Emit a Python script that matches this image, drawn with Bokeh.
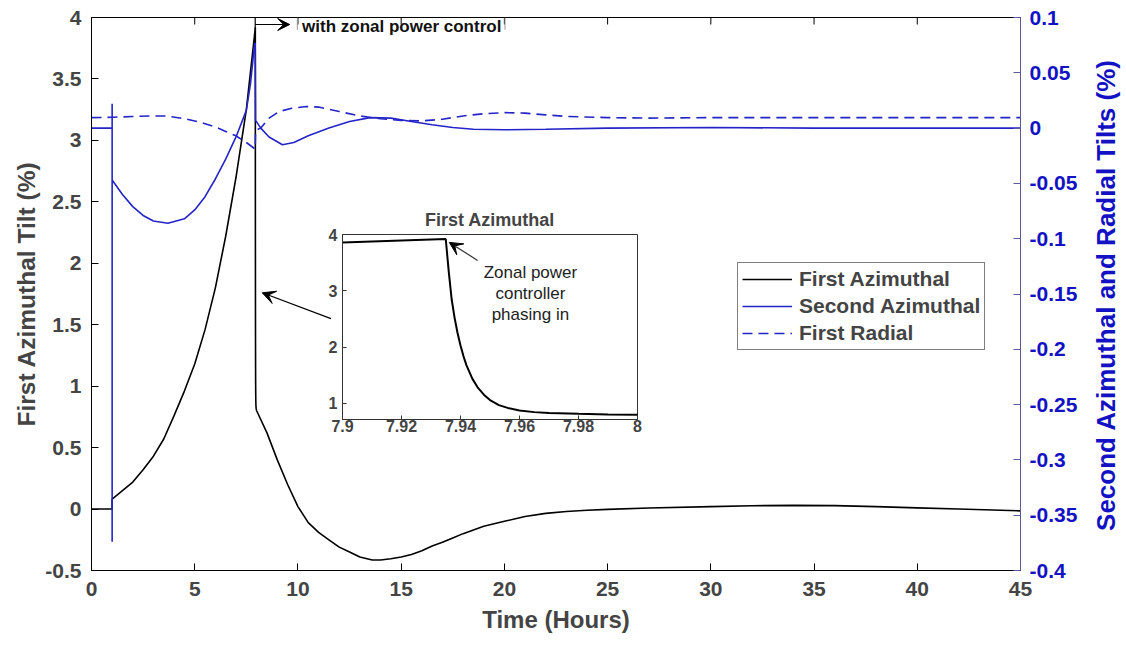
import math
from bokeh.plotting import figure
from bokeh.models import (Range1d, LinearAxis, FixedTicker, Legend, LegendItem,
                          Arrow, VeeHead, Label)
from bokeh.layouts import column, row
from bokeh.embed import file_html
from bokeh.resources import INLINE

FONT = "Liberation Sans"
BLUE = "#2424c8"
BLUE_TXT = "#1212c4"

# ---------------- data ----------------
# First Azimuthal tilt (%), left axis
t_az1 = [0.0, 1.0, 1.0, 1.5, 2.0, 2.5, 3.0, 3.5, 4.0, 4.5, 5.0, 5.5, 6.0, 6.5, 7.0,
         7.5, 7.9, 7.935, 7.936, 7.937, 7.938, 7.939, 7.940, 7.941, 7.942, 7.944,
         7.946, 7.948, 7.950, 7.953, 7.956, 7.960, 7.965, 7.970, 7.980, 7.990,
         8.0, 8.5, 9.0, 9.5, 10.0, 10.5, 11.0, 11.5, 12.0, 12.5, 13.0,
         13.6, 14.0, 14.5, 15.0, 15.5, 16.0, 16.5, 17.0, 17.5, 18.0, 19.0, 20.0,
         21.0, 22.0, 23.0, 24.0, 25.0, 27.0, 30.0, 32.0, 34.0, 36.0, 38.0, 40.0,
         42.0, 45.0]
az1 = [0.0, 0.0, 0.08, 0.15, 0.22, 0.32, 0.43, 0.57, 0.76, 0.96, 1.18, 1.46, 1.80,
       2.22, 2.70, 3.25, 3.86, 3.92, 3.35, 2.85, 2.52, 2.25, 2.03, 1.84, 1.68, 1.44,
       1.27, 1.15, 1.06, 0.97, 0.92, 0.875, 0.845, 0.83, 0.815, 0.805,
       0.80, 0.62, 0.40, 0.20, 0.02, -0.11, -0.19, -0.25, -0.31, -0.35,
       -0.39, -0.415, -0.415, -0.405, -0.39, -0.37, -0.34, -0.30, -0.27, -0.235,
       -0.20, -0.14, -0.10, -0.06, -0.035, -0.02, -0.01, -0.003, 0.008, 0.02,
       0.027, 0.03, 0.028, 0.02, 0.01, 0.0, -0.015]

# Second Azimuthal tilt (%), right axis
t_az2 = [0.0, 1.0, 1.0, 1.0, 1.0, 1.5, 2.0, 2.5, 3.0, 3.7, 4.5, 5.0, 5.5, 6.0, 6.5,
         7.0, 7.5, 7.7, 7.9, 7.93, 7.95, 8.2, 8.6, 9.25, 9.8, 10.5, 11.5, 12.5,
         13.5, 14.5, 15.5, 16.5, 17.5, 18.5, 20.0, 22.0, 25.0, 30.0, 35.0, 40.0,
         45.0]
az2 = [0.0, 0.0, 0.022, -0.374, -0.047, -0.060, -0.071, -0.079, -0.084, -0.086,
       -0.082, -0.074, -0.062, -0.046, -0.028, -0.008, 0.016, 0.040, 0.076, 0.077,
       0.007, 0.0, -0.008, -0.015, -0.013, -0.007, 0.0, 0.006, 0.0095, 0.009,
       0.006, 0.003, 0.0005, -0.001, -0.0015, -0.001, 0.0, 0.0005, 0.0, 0.0, 0.0]

# First Radial tilt (%), right axis
t_rad = [0.0, 1.0, 2.0, 3.0, 3.6, 4.5, 5.0, 5.5, 6.0, 6.5, 7.0, 7.5, 7.93, 7.95,
         8.2, 8.6, 9.1, 9.7, 10.4, 11.0, 12.0, 13.0, 14.0, 15.0, 16.0, 17.0, 18.0,
         19.0, 20.0, 21.0, 22.0, 23.0, 25.0, 27.0, 30.0, 35.0, 40.0, 45.0]
rad = [0.0095, 0.0098, 0.0105, 0.011, 0.011, 0.0085, 0.0065, 0.004, 0.001, -0.003,
       -0.007, -0.013, -0.019, -0.002, 0.0, 0.009, 0.015, 0.018, 0.0195, 0.019,
       0.015, 0.011, 0.0085, 0.007, 0.0065, 0.008, 0.011, 0.013, 0.014, 0.0135,
       0.012, 0.0105, 0.0095, 0.009, 0.0095, 0.0095, 0.0095, 0.0095]

x_ticks = [0, 5, 10, 15, 20, 25, 30, 35, 40, 45]
left_ticks = [-0.5, 0, 0.5, 1, 1.5, 2, 2.5, 3, 3.5, 4]
left_labels = ["-0.5", "0", "0.5", "1", "1.5", "2", "2.5", "3", "3.5", "4"]
right_ticks = [-0.4, -0.35, -0.3, -0.25, -0.2, -0.15, -0.1, -0.05, 0, 0.05, 0.1]
right_labels = ["-0.4", "-0.35", "-0.3", "-0.25", "-0.2", "-0.15", "-0.1", "-0.05",
                "0", "0.05", "0.1"]
inset_x_ticks = [7.9, 7.92, 7.94, 7.96, 7.98, 8.0]
inset_x_labels = ["7.9", "7.92", "7.94", "7.96", "7.98", "8"]
inset_y_ticks = [1, 2, 3, 4]

series_names = ["First Azimuthal", "Second Azimuthal", "First Radial"]
right_title = "Second Azimuthal and Radial Tilts (%)"

FRAME_W, FRAME_H = 929, 553
X0, X1, Y0, Y1 = 0, 45, -0.5, 4

# ---------------- main figure ----------------
p = figure(output_backend="svg", toolbar_location=None,
           frame_width=FRAME_W, frame_height=FRAME_H,
           x_range=Range1d(X0, X1), y_range=Range1d(Y0, Y1),
           min_border_left=91, min_border_right=99, min_border_top=17,
           min_border_bottom=72)
p.extra_y_ranges = {"r": Range1d(-0.4, 0.1)}
p.xgrid.visible = False
p.ygrid.visible = False
p.outline_line_color = "black"
p.outline_line_width = 1
p.background_fill_color = "white"
p.border_fill_color = "white"

def style_axis(ax, color="black", size="21px"):
    ax.major_tick_in = 7
    ax.major_tick_out = 0
    ax.minor_tick_in = 0
    ax.minor_tick_out = 0
    ax.axis_line_color = color
    ax.major_tick_line_color = color
    ax.major_label_text_font = FONT
    ax.major_label_text_font_style = "bold"
    ax.major_label_text_font_size = size
    ax.axis_label_text_font = FONT
    ax.axis_label_text_font_style = "bold"

xa = p.xaxis[0]
style_axis(xa)
xa.ticker = FixedTicker(ticks=x_ticks)
xa.major_label_standoff = 11
xa.axis_label = "Time (Hours)"
xa.axis_label_text_font_size = "24px"
xa.axis_label_standoff = 7

ya = p.yaxis[0]
style_axis(ya)
ya.ticker = FixedTicker(ticks=left_ticks)
ya.major_label_overrides = {v: s for v, s in zip(left_ticks, left_labels)}
ya.major_label_standoff = 10
ya.axis_label = "First Azimuthal Tilt (%)"
ya.axis_label_text_font_size = "24.5px"
ya.axis_label_standoff = 2

ra = LinearAxis(y_range_name="r")
style_axis(ra, color="#5a5a9c")
ra.major_label_text_color = BLUE_TXT
ra.ticker = FixedTicker(ticks=right_ticks)
ra.major_label_overrides = {v: s for v, s in zip(right_ticks, right_labels)}
ra.major_label_standoff = 9
p.add_layout(ra, "right")

# mirrored tick marks on the top edge (box on), at the x tick positions
tick_len = 7 * (Y1 - Y0) / FRAME_H
p.segment(x0=x_ticks, y0=[Y1] * len(x_ticks), x1=x_ticks,
          y1=[Y1 - tick_len] * len(x_ticks), line_color="black", line_width=1)

r1 = p.line(t_az1, az1, line_color="black", line_width=1.6)
r2 = p.line(t_az2, az2, line_color=BLUE, line_width=1.6, y_range_name="r")
r3 = p.line(t_rad, rad, line_color=BLUE, line_width=1.6, line_dash="10 6",
            y_range_name="r")

legend = Legend(items=[LegendItem(label=series_names[0], renderers=[r1]),
                       LegendItem(label=series_names[1], renderers=[r2]),
                       LegendItem(label=series_names[2], renderers=[r3])],
                location=(646, 220))
legend.border_line_color = "black"
legend.border_line_width = 1
legend.background_fill_color = "white"
legend.background_fill_alpha = 1
legend.label_text_font = FONT
legend.label_text_font_style = "bold"
legend.label_text_font_size = "21px"
legend.glyph_width = 50
legend.glyph_height = 20
legend.label_height = 20
legend.spacing = 3
legend.padding = 4
legend.margin = 0
legend.label_standoff = 7
p.add_layout(legend)

# top annotation "with zonal power control"
p.segment(x0=[7.93], y0=[4.0], x1=[7.93], y1=[3.9], line_color="black",
          line_width=1.2)
p.add_layout(Arrow(x_start=7.93, y_start=3.943, x_end=9.6, y_end=3.943,
                   line_color="black", line_width=1.2,
                   end=VeeHead(size=12, fill_color="black", line_color="black")))
p.segment(x0=[9.97, 20.03], y0=[4.0, 4.0], x1=[9.97, 20.03], y1=[3.9, 3.9],
          line_color="#999999", line_width=1)
p.add_layout(Label(x=10.2, y=3.925, text="with zonal power control",
                   text_font=FONT, text_font_style="bold", text_font_size="17px",
                   text_baseline="middle", text_align="left", text_color="#111111"))

# arrow from inset to the drop
p.add_layout(Arrow(x_start=11.6, y_start=1.55, x_end=8.27, y_end=1.76,
                   line_color="black", line_width=1.2,
                   end=VeeHead(size=13, fill_color="black", line_color="black")))

# ---------------- inset ----------------
ins = figure(output_backend="svg", toolbar_location=None,
             frame_width=295, frame_height=185,
             x_range=Range1d(7.9, 8.0), y_range=Range1d(0.714, 4.0),
             min_border_left=30, min_border_right=8, min_border_top=30,
             min_border_bottom=28, title=series_names[0])
ins.xgrid.visible = False
ins.ygrid.visible = False
ins.outline_line_color = "#333333"
ins.background_fill_color = "white"
ins.border_fill_color = None
ins.title.align = "center"
ins.title.text_font = FONT
ins.title.text_font_style = "bold"
ins.title.text_font_size = "18px"
ins.title.standoff = 9

ixa = ins.xaxis[0]
style_axis(ixa, color="#333333", size="16px")
ixa.major_tick_in = 4
ixa.ticker = FixedTicker(ticks=inset_x_ticks)
ixa.major_label_overrides = {v: s for v, s in zip(inset_x_ticks, inset_x_labels)}
ixa.major_label_standoff = 0
iya = ins.yaxis[0]
style_axis(iya, color="#333333", size="16px")
iya.major_tick_in = 4
iya.ticker = FixedTicker(ticks=inset_y_ticks)
iya.major_label_standoff = 5

ins.line(t_az1, az1, line_color="black", line_width=2)
ins.add_layout(Arrow(x_start=7.9458, y_start=3.54, x_end=7.9362, y_end=3.86,
                     line_color="#333333", line_width=1.2,
                     end=VeeHead(size=13, fill_color="black", line_color="black")))
for txt, yy in zip(["Zonal power", "controller", "phasing in"], [3.33, 2.95, 2.58]):
    ins.add_layout(Label(x=7.9637, y=yy, text=txt, text_font=FONT,
                         text_font_size="17px", text_align="center",
                         text_baseline="middle", text_color="#222222"))

holder = row(ins)
holder.margin = (-439, 0, 196, 312)

# ---------------- right-axis title (reads bottom-to-top) ----------------
lab = figure(output_backend="svg", toolbar_location=None,
             frame_width=32, frame_height=FRAME_H,
             x_range=Range1d(0, 1), y_range=Range1d(0, 1),
             x_axis_type=None, y_axis_type=None,
             min_border_left=0, min_border_right=0, min_border_top=0,
             min_border_bottom=0)
lab.outline_line_color = None
lab.background_fill_color = None
lab.border_fill_color = None
lab.add_layout(Label(x=0.5, y=0.5, text=right_title, angle=math.pi / 2,
                     text_font=FONT, text_font_style="bold", text_font_size="26px",
                     text_color=BLUE_TXT, text_align="center",
                     text_baseline="middle"))
holder2 = row(lab)
holder2.margin = (17 - 642, 0, 642 - 17 - FRAME_H, 1089)

layout = column(p, holder, holder2)
open("out.html", "w").write(file_html(layout, INLINE))
